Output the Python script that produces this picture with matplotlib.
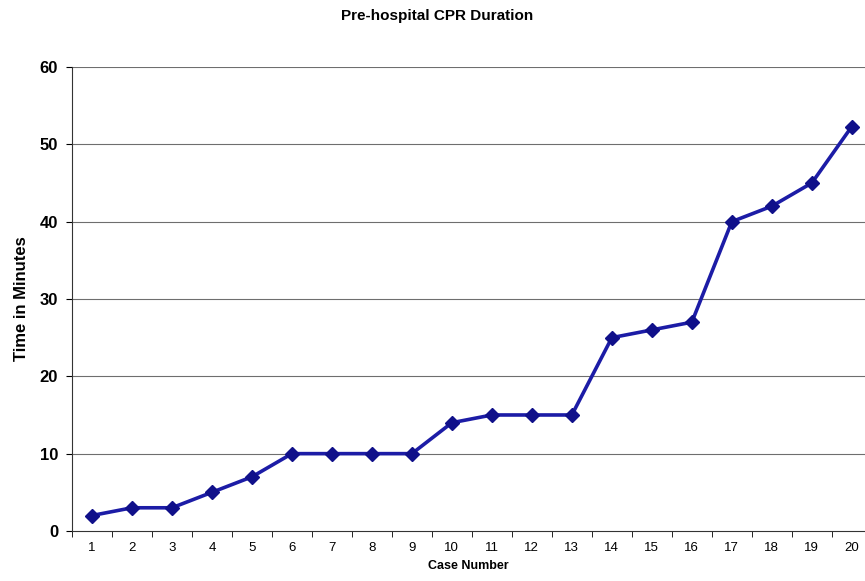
import matplotlib.pyplot as plt

plt.rcParams['font.family'] = ['Liberation Sans', 'DejaVu Sans']

case_number = list(range(1, 21))
minutes = [2, 3, 3, 5, 7, 10, 10, 10, 10, 14, 15, 15, 15, 25, 26, 27, 40, 42, 45, 52.3]
y_ticks = [0, 10, 20, 30, 40, 50, 60]

fig = plt.figure(figsize=(8.65, 5.81), dpi=100)
ax = fig.add_axes([0.0832, 0.0861, 0.9168, 0.7986])

# gridlines
for t in y_ticks[1:]:
    ax.axhline(t, color='#6e6e6e', lw=0.8, zorder=1)

ax.plot(case_number, minutes, color='#1c1ca6', lw=2.6, marker='D',
        markersize=7.5, markerfacecolor='#10108a', markeredgecolor='#10108a', zorder=3)

ax.set_xlim(0.5, 20.33)
ax.set_ylim(0, 60)
ax.set_yticks(y_ticks)
ax.set_yticklabels([str(t) for t in y_ticks], fontsize=12, fontweight='bold')
ax.set_xticks(case_number)
ax.set_xticklabels([str(c) for c in case_number], fontsize=9.5)
ax.set_xticks([c + 0.5 for c in range(0, 20)], minor=True)
ax.tick_params(axis='x', which='major', length=0, pad=8)
ax.tick_params(axis='x', which='minor', length=4, direction='out')
ax.tick_params(axis='y', length=4, direction='out', pad=6)

for s in ['top', 'right']:
    ax.spines[s].set_visible(False)
ax.spines['left'].set_color('#333333')
ax.spines['bottom'].set_color('#333333')

ax.set_xlabel('Case Number', fontsize=9, fontweight='bold', labelpad=4)
ax.set_ylabel('Time in Minutes', fontsize=12, fontweight='bold', labelpad=8)
fig.text(0.505, 0.972, 'Pre-hospital CPR Duration', ha='center', va='center',
         fontsize=11, fontweight='bold')

fig.savefig('out.png', dpi=100)
